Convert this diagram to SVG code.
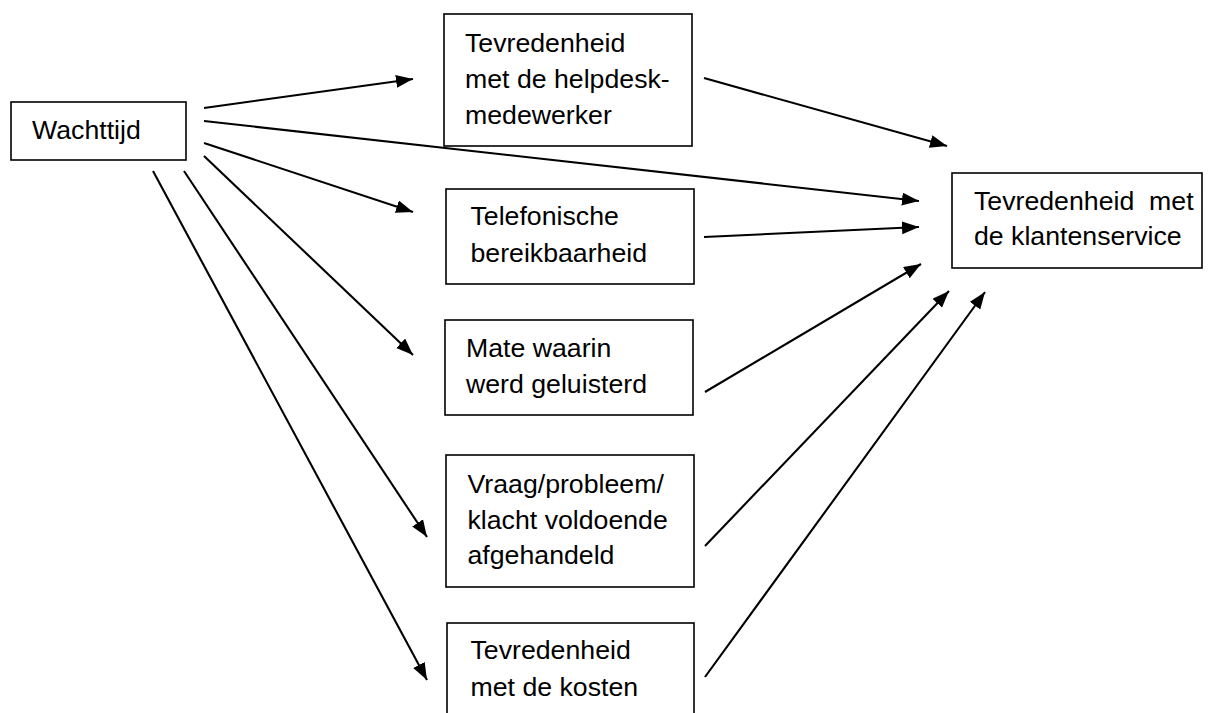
<svg xmlns="http://www.w3.org/2000/svg" width="1214" height="713" viewBox="0 0 1214 713">
<style>
.box{fill:#fff;stroke:#000;stroke-width:1.6}
.t{font-family:"Liberation Sans",Arial,sans-serif;font-size:26.7px;fill:#000}
.c line{stroke:#000;stroke-width:2.1}
</style>
<defs>
<marker id="ah" markerUnits="userSpaceOnUse" markerWidth="18" markerHeight="14" refX="17" refY="6.5" orient="auto">
<path d="M0,0 L17,6.5 L0,13 z" fill="#000"/>
</marker>
</defs>
<g class="c" id="connectors">
<line x1="204" y1="108" x2="413" y2="79" marker-end="url(#ah)"/>
<line x1="204" y1="121" x2="919" y2="201" marker-end="url(#ah)"/>
<line x1="204" y1="143" x2="413" y2="212" marker-end="url(#ah)"/>
<line x1="204" y1="156" x2="413" y2="355" marker-end="url(#ah)"/>
<line x1="184" y1="171" x2="427" y2="537" marker-end="url(#ah)"/>
<line x1="153" y1="171" x2="427" y2="680" marker-end="url(#ah)"/>
<line x1="704" y1="78" x2="947" y2="146" marker-end="url(#ah)"/>
<line x1="704" y1="237" x2="919" y2="227" marker-end="url(#ah)"/>
<line x1="705" y1="392" x2="921" y2="264" marker-end="url(#ah)"/>
<line x1="705" y1="546" x2="949" y2="291" marker-end="url(#ah)"/>
<line x1="705" y1="677" x2="985" y2="292" marker-end="url(#ah)"/>
</g>
<g id="wachttijd">
<rect class="box" x="11" y="102" width="175" height="58"/>
<text class="t" x="32" y="139">Wachttijd</text>
</g>
<g id="helpdesk">
<rect class="box" x="444" y="14" width="248" height="132"/>
<text class="t" x="465" y="52">Tevredenheid</text>
<text class="t" x="465" y="88">met de helpdesk-</text>
<text class="t" x="465" y="124">medewerker</text>
</g>
<g id="telefonisch">
<rect class="box" x="446" y="189" width="248" height="95"/>
<text class="t" x="470.5" y="225">Telefonische</text>
<text class="t" x="470.5" y="262">bereikbaarheid</text>
</g>
<g id="luisteren">
<rect class="box" x="445" y="320" width="248" height="95"/>
<text class="t" x="466" y="357">Mate waarin</text>
<text class="t" x="466" y="393">werd geluisterd</text>
</g>
<g id="afgehandeld">
<rect class="box" x="446" y="455" width="248" height="132"/>
<text class="t" x="467.5" y="493">Vraag/probleem/</text>
<text class="t" x="467.5" y="529">klacht voldoende</text>
<text class="t" x="467.5" y="564">afgehandeld</text>
</g>
<g id="kosten">
<rect class="box" x="447" y="623" width="247" height="110"/>
<text class="t" x="470.5" y="659">Tevredenheid</text>
<text class="t" x="470.5" y="696">met de kosten</text>
</g>
<g id="klantenservice">
<rect class="box" x="952" y="173" width="250" height="95"/>
<text class="t" x="974" y="210" xml:space="preserve">Tevredenheid  met</text>
<text class="t" x="974" y="245">de klantenservice</text>
</g>
</svg>
